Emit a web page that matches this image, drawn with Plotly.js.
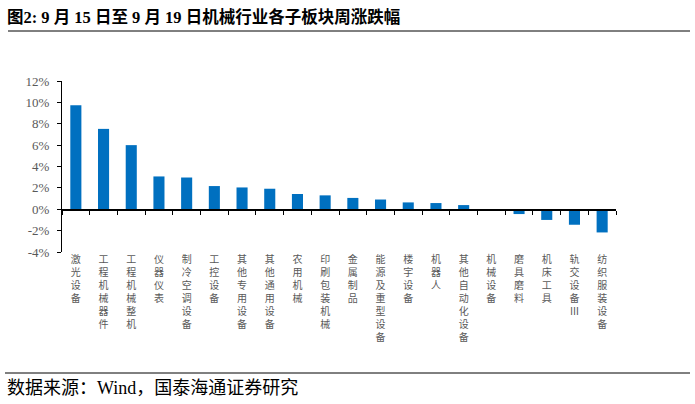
<!DOCTYPE html>
<html>
<head>
<meta charset="utf-8">
<script src="https://cdn.plot.ly/plotly-3.0.1.min.js"></script>
<style>html,body{margin:0;padding:0;background:#fff;}#chart{width:695px;height:404px;}</style>
</head>
<body>
<div id="chart"></div>
<script>
const categories = ['激光设备','工程机械器件','工程机械整机','仪器仪表','制冷空调设备','工控设备','其他专用设备','其他通用设备','农用机械','印刷包装机械','金属制品','能源及重型设备','楼宇设备','机器人','其他自动化设备','机械设备','磨具磨料','机床工具','轨交设备Ⅲ','纺织服装设备'];
const values = [9.74, 7.52, 6.00, 3.07, 2.97, 2.17, 2.04, 1.92, 1.43, 1.30, 1.06, 0.91, 0.64, 0.58, 0.39, 0.02, -0.45, -1.00, -1.45, -2.17];
const yTickVals = [-4, -2, 0, 2, 4, 6, 8, 10, 12];
const yTickText = ['-4%', '-2%', '0%', '2%', '4%', '6%', '8%', '10%', '12%'];
const titleText = '图2: 9 月 15 日至 9 月 19 日机械行业各子板块周涨跌幅';
const sourceText = '数据来源：Wind，国泰海通证券研究';

const W = 695, H = 404;
const M = {l: 62, r: 79, t: 81, b: 152};
const pw = W - M.l - M.r, ph = H - M.t - M.b;
const px = x => (x - M.l) / pw;
const py = y => (H - M.b - y) / ph;

const serif = 'Liberation Serif, Noto Sans CJK SC, serif';
const vertLabels = categories.map(c => Array.from(c).join('<br>'));

const traces = [
  {type: 'bar', x: categories, y: values, xaxis: 'x2', yaxis: 'y',
   marker: {color: '#0070C0'}, hoverinfo: 'skip'},
  {type: 'scatter', mode: 'markers', x: categories, y: values.map(() => null),
   xaxis: 'x', yaxis: 'y', hoverinfo: 'skip', showlegend: false}
];

const layout = {
  width: W, height: H,
  margin: M,
  paper_bgcolor: '#fff', plot_bgcolor: '#fff',
  showlegend: false,
  bargap: 0.6,
  font: {family: serif, color: '#595959', size: 12},
  title: {text: titleText, xref: 'container', yref: 'container', x: 7 / W, xanchor: 'left',
          y: 1 - 17 / H, yanchor: 'middle',
          font: {family: serif, size: 16.5, color: '#000', weight: 'bold'}},
  xaxis: {type: 'category', anchor: 'y', side: 'bottom', showline: false, showgrid: false, zeroline: false,
          ticks: '', tickmode: 'array', tickvals: categories, ticktext: vertLabels, tickangle: 0,
          tickfont: {family: serif, size: 10, color: '#595959'},
          range: [-0.5, categories.length - 0.5], fixedrange: true},
  xaxis2: {type: 'category', overlaying: 'x', anchor: 'free', position: 0.25,
           showline: true, linecolor: '#000', linewidth: 1.5, showgrid: false, zeroline: false,
           ticks: 'outside', tickson: 'boundaries', ticklen: 4, tickcolor: '#000', tickwidth: 1,
           showticklabels: false, range: [-0.5, categories.length - 0.5], fixedrange: true},
  yaxis: {range: [-4, 12], tickmode: 'array', tickvals: yTickVals, ticktext: yTickText,
          showline: true, linecolor: '#000', linewidth: 1, ticks: 'outside', ticklen: 4, tickcolor: '#000',
          showgrid: false, zeroline: false, ticklabelstandoff: 5,
          tickfont: {family: serif, size: 13, color: '#595959'}, fixedrange: true},
  shapes: [
    {type: 'line', xref: 'paper', yref: 'paper', x0: px(8), x1: px(690), y0: py(31), y1: py(31),
     line: {color: '#000', width: 1}},
    {type: 'line', xref: 'paper', yref: 'paper', x0: px(5), x1: px(690), y0: py(373), y1: py(373),
     line: {color: '#000', width: 1}}
  ],
  annotations: [
    {text: sourceText, xref: 'paper', yref: 'paper', x: px(5), y: py(388), xanchor: 'left', yanchor: 'middle',
     showarrow: false, font: {family: serif, size: 18, color: '#000'}}
  ]
};

Plotly.newPlot('chart', traces, layout, {displayModeBar: false, staticPlot: true});
</script>
</body>
</html>
